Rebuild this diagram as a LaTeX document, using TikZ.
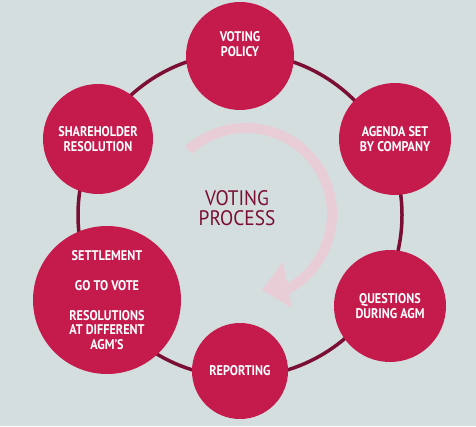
\documentclass[tikz,border=0pt]{standalone}
\usepackage{fontspec}
\setmainfont{PT Sans}
\newfontfamily\labelfont[FakeStretch=0.87]{PT Sans}
\newfontfamily\titlefont[FakeStretch=0.92]{PT Sans}
\usetikzlibrary{calc}

\definecolor{bggrey}{HTML}{D4DEDF}
\definecolor{crimson}{HTML}{C41A4C}
\definecolor{darkmaroon}{HTML}{7A0E34}
\definecolor{palepink}{HTML}{E9CDD6}

\begin{document}
\begin{tikzpicture}[x=1pt,y=1pt,
  stage/.style={circle,fill=crimson,inner sep=0pt,text=white,align=center,
    font=\labelfont\bfseries\fontsize{14}{14.5}\selectfont},
  ring/.style={line width=3.5,color=darkmaroon}]
\fill[bggrey] (0,0) rectangle (476,426);
\useasboundingbox (0,0) rectangle (476,426);
\coordinate (ringc) at (240,211);
\coordinate (arrowc) at (246,212);
\draw[ring] (ringc) circle[radius=162];
\draw[line width=10,color=palepink] (arrowc) ++(132:86) arc[start angle=132,end angle=-62,radius=86];
\fill[palepink] (283,164) -- (262,136) -- (292,118) -- cycle;
\node[text=darkmaroon,align=center,font=\titlefont\fontsize{21}{20}\selectfont] (title) at (237,218) {VOTING\\PROCESS};

\node[stage,minimum size=108] (policy) at (240,370) {VOTING\\POLICY\\[9pt]};
\node[stage,minimum size=112] (agenda) at (395,287) {AGENDA SET\\BY COMPANY};
\node[stage,minimum size=112] (questions) at (390,120) {QUESTIONS\\DURING AGM};
\node[stage,minimum size=96] (reporting) at (240,55) {REPORTING};
\node[stage,minimum size=148] (settlement) at (107,126) {SETTLEMENT\\[15.5pt]GO TO VOTE\\[15.5pt]RESOLUTIONS\\AT DIFFERENT\\AGM’S};
\node[stage,minimum size=110] (shareholder) at (98,287) {SHAREHOLDER\\RESOLUTION};
\end{tikzpicture}
\end{document}
